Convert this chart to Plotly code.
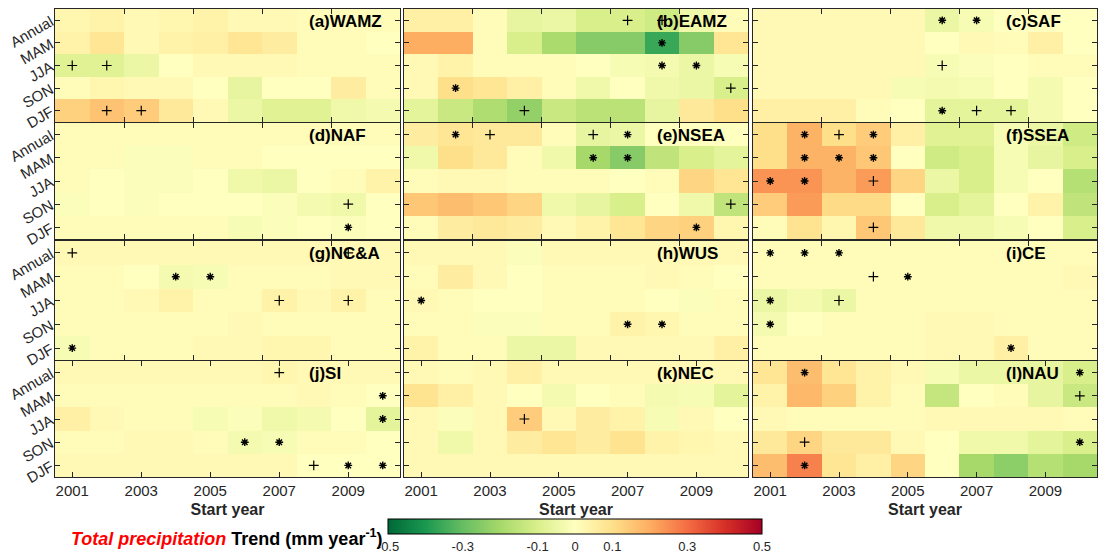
import plotly.graph_objects as go

years = [2001, 2002, 2003, 2004, 2005, 2006, 2007, 2008, 2009, 2010]
seasons = ["Annual", "MAM", "JJA", "SON", "DJF"]
regions = ["(a)WAMZ", "(b)EAMZ", "(c)SAF", "(d)NAF", "(e)NSEA", "(f)SSEA",
           "(g)NC&A", "(h)WUS", "(i)CE", "(j)SI", "(k)NEC", "(l)NAU"]

# trend values, rows = seasons (Annual, MAM, JJA, SON, DJF), cols = 2001..2010
wamz = [[0.03, 0.04, 0.02, 0.03, 0.04, 0.02, 0.02, 0.01, 0.01, 0.01],
        [0.04, 0.08, 0.02, 0.04, 0.05, 0.08, 0.06, 0.01, 0.01, 0.00],
        [-0.08, -0.08, -0.05, 0.00, 0.02, 0.02, 0.02, 0.01, 0.01, 0.01],
        [0.01, 0.03, 0.02, 0.02, 0.00, -0.06, 0.00, 0.00, 0.06, 0.01],
        [0.13, 0.16, 0.14, 0.07, 0.02, -0.05, -0.08, -0.08, -0.04, -0.03]]
eamz = [[0.05, 0.05, 0.01, -0.06, -0.05, -0.10, -0.10, -0.12, -0.04, 0.01],
        [0.20, 0.20, 0.01, -0.10, -0.19, -0.25, -0.25, -0.36, -0.25, 0.08],
        [0.02, 0.04, 0.01, 0.01, 0.01, 0.00, -0.02, -0.03, -0.05, -0.02],
        [0.02, 0.10, 0.08, 0.05, 0.01, -0.04, 0.00, -0.04, -0.05, -0.10],
        [-0.07, -0.13, -0.18, -0.23, -0.13, -0.16, -0.16, -0.06, 0.07, 0.10]]
saf = [[0.02, 0.02, 0.02, 0.02, 0.02, -0.05, -0.02, 0.00, 0.00, 0.00],
       [0.02, 0.02, 0.02, 0.02, 0.02, 0.00, 0.02, 0.01, 0.05, 0.00],
       [0.02, 0.02, 0.02, 0.02, 0.02, -0.02, -0.01, 0.00, 0.01, 0.01],
       [0.02, 0.02, 0.02, 0.02, -0.02, -0.03, -0.02, 0.00, -0.03, 0.00],
       [0.05, 0.05, 0.05, 0.01, 0.00, -0.07, -0.07, -0.07, -0.03, 0.00]]
naf = [[0.01, 0.01, 0.01, 0.01, 0.01, 0.01, 0.01, 0.01, 0.01, 0.01],
       [0.01, 0.01, -0.01, -0.01, 0.01, 0.01, 0.00, 0.00, 0.00, 0.00],
       [0.01, 0.00, -0.01, -0.01, 0.00, -0.04, -0.05, 0.00, 0.01, 0.04],
       [-0.01, 0.00, -0.01, 0.00, 0.00, 0.00, -0.01, -0.03, -0.04, 0.00],
       [0.01, 0.01, 0.01, 0.01, 0.01, -0.02, -0.01, 0.00, -0.01, 0.00]]
nsea = [[0.06, 0.08, 0.07, 0.07, 0.01, -0.06, -0.05, 0.00, 0.00, 0.00],
        [-0.04, 0.10, 0.07, 0.01, -0.04, -0.20, -0.25, -0.15, -0.10, -0.07],
        [0.01, 0.02, 0.02, 0.01, 0.01, 0.01, 0.00, 0.01, 0.12, 0.08],
        [0.15, 0.17, 0.15, 0.12, -0.04, -0.06, -0.10, 0.00, -0.04, -0.15],
        [0.01, 0.06, 0.07, 0.06, 0.02, 0.04, 0.08, 0.12, 0.13, 0.03]]
ssea = [[0.10, 0.19, 0.10, 0.14, 0.05, -0.08, -0.08, -0.02, -0.05, -0.12],
        [0.10, 0.19, 0.19, 0.15, 0.00, -0.12, -0.10, -0.02, -0.06, -0.10],
        [0.24, 0.24, 0.19, 0.23, 0.12, -0.05, -0.10, -0.02, 0.00, -0.17],
        [0.14, 0.23, 0.11, 0.11, 0.00, -0.10, -0.07, 0.00, 0.04, -0.15],
        [0.01, 0.09, 0.03, 0.15, 0.07, -0.04, -0.04, -0.02, 0.00, -0.10]]
nca = [[0.02, 0.02, 0.02, 0.02, 0.02, 0.02, 0.02, 0.02, 0.02, 0.02],
       [0.01, 0.01, 0.00, -0.03, -0.02, 0.01, 0.01, 0.01, 0.02, 0.02],
       [0.01, 0.01, 0.02, 0.04, 0.01, 0.01, 0.04, 0.02, 0.04, 0.01],
       [0.01, 0.01, 0.01, 0.01, 0.01, 0.02, 0.01, 0.01, 0.01, 0.01],
       [-0.02, 0.01, 0.01, 0.01, 0.02, 0.02, 0.03, 0.03, 0.01, 0.01]]
wus = [[0.02, 0.02, 0.02, -0.01, 0.02, 0.02, 0.02, 0.02, 0.02, 0.02],
       [0.01, 0.06, 0.02, 0.00, 0.01, 0.01, 0.01, 0.02, 0.01, 0.00],
       [0.02, 0.01, 0.00, 0.00, 0.01, 0.01, 0.01, 0.00, -0.01, 0.01],
       [0.01, 0.01, -0.01, -0.01, 0.01, 0.01, 0.04, 0.03, 0.01, 0.01],
       [0.04, 0.01, 0.01, -0.05, -0.05, 0.02, 0.02, 0.02, 0.02, 0.05]]
ce = [[0.01, 0.01, 0.01, 0.01, 0.01, 0.01, 0.01, 0.01, 0.01, 0.01],
      [0.01, 0.01, 0.01, 0.01, 0.01, 0.01, 0.01, 0.01, 0.01, 0.02],
      [-0.05, -0.03, -0.05, 0.01, 0.01, 0.01, 0.01, 0.01, 0.01, 0.01],
      [-0.03, 0.00, 0.01, 0.01, 0.01, 0.02, 0.02, 0.01, 0.01, 0.01],
      [0.01, 0.01, 0.01, 0.01, 0.01, 0.02, 0.02, 0.05, 0.01, 0.01]]
si = [[0.02, 0.02, 0.02, 0.02, 0.02, 0.02, 0.03, 0.02, 0.02, 0.02],
      [0.01, 0.01, 0.01, 0.01, 0.01, 0.01, 0.01, 0.02, 0.01, 0.00],
      [0.05, 0.02, 0.01, 0.01, -0.02, -0.01, -0.04, -0.03, 0.00, -0.07],
      [0.01, 0.01, 0.02, 0.02, 0.01, -0.03, -0.02, 0.01, 0.01, 0.00],
      [0.02, 0.02, 0.02, 0.02, 0.02, 0.02, 0.02, 0.00, 0.00, 0.00]]
nec = [[0.02, 0.01, 0.02, 0.05, 0.02, 0.02, 0.02, 0.02, 0.02, 0.02],
       [0.09, 0.05, 0.02, 0.00, -0.03, 0.00, 0.01, -0.03, -0.02, -0.07],
       [0.02, -0.01, 0.02, 0.14, 0.02, 0.06, 0.04, -0.02, 0.02, 0.00],
       [0.02, -0.04, 0.02, 0.06, 0.08, 0.06, 0.09, 0.04, 0.03, 0.02],
       [0.02, 0.02, 0.02, 0.02, 0.02, 0.02, 0.02, 0.02, 0.02, 0.02]]
nau = [[0.08, 0.17, 0.08, 0.04, 0.02, -0.02, -0.05, -0.05, -0.06, -0.10],
       [0.04, 0.18, 0.13, 0.04, 0.01, -0.14, 0.00, 0.01, -0.06, -0.13],
       [0.02, 0.01, 0.01, 0.01, 0.01, 0.02, 0.02, 0.02, 0.02, 0.01],
       [0.07, 0.12, 0.07, 0.07, 0.02, 0.00, -0.04, -0.04, -0.07, -0.10],
       [0.17, 0.27, 0.08, 0.05, 0.12, 0.00, -0.20, -0.24, -0.17, -0.20]]
values = [wamz, eamz, saf, naf, nsea, ssea, nca, wus, ce, si, nec, nau]

# significance marks: '*' and '+' per cell, '.' = none
marks = [
    ["..........", "..........", "++........", "..........", ".++......."],
    ["......++..", ".......*..", ".......**.", ".*.......+", "...+......"],
    [".....**...", "..........", ".....+....", "..........", ".....*++.."],
    ["..........", "..........", "..........", "........+.", "........*."],
    [".*+..+*...", ".....**...", "..........", ".........+", "........*."],
    [".*+*......", ".***......", "**.+......", "..........", "...+......"],
    ["+.......+.", "...**.....", "......+.+.", "..........", "*........."],
    ["..........", "..........", "*.........", "......**..", ".........."],
    ["***.......", "...+*.....", "*.+.......", "*.........", ".......*.."],
    ["......+...", ".........*", ".........*", ".....**...", ".......+**"],
    ["..........", "..........", "...+......", "..........", ".........."],
    [".*.......*", ".........+", "..........", ".+.......*", ".*........"],
]

cbar_ticks = [-0.5, -0.3, -0.1, 0, 0.1, 0.3, 0.5]

# page body adds an 8px margin; work in target-image pixels and shift
OFF = 8
W, H = 1108 - OFF, 556 - OFF
col_l = [55 - OFF, 404 - OFF, 753 - OFF]
col_r = [400 - OFF, 748 - OFF, 1097 - OFF]
row_t = [9 - OFF, 123 - OFF, 241 - OFF, 361 - OFF]
row_b = [122 - OFF, 239 - OFF, 360 - OFF, 477 - OFF]

colorscale = [[0.0, "#006837"], [0.1, "#1a9850"], [0.2, "#66bd63"], [0.3, "#a6d96a"],
              [0.4, "#d9ef8b"], [0.5, "#ffffbf"], [0.6, "#fee08b"], [0.7, "#fdae61"],
              [0.8, "#f46d43"], [0.9, "#d73027"], [1.0, "#a50026"]]

FONT = "Liberation Sans, Arial"
fig = go.Figure()
layout = {}
ink = "#262626"
for i in range(12):
    r, c = divmod(i, 3)
    n = "" if i == 0 else str(i + 1)
    xa, ya = "x" + n, "y" + n
    fig.add_trace(go.Heatmap(z=values[i], x=years, y=list(range(5)), coloraxis="coloraxis",
                             xaxis=xa, yaxis=ya))
    for sym in ["*", "+"]:
        xs, ys = [], []
        for si_, row in enumerate(marks[i]):
            for yi, ch in enumerate(row):
                if ch == sym:
                    xs.append(years[yi]); ys.append(si_)
        if not xs:
            continue
        if sym == "*":
            fig.add_trace(go.Scatter(x=xs, y=ys, mode="markers", xaxis=xa, yaxis=ya,
                                     marker=dict(symbol="asterisk-open", size=6.5, color="black",
                                                 line=dict(width=1.4, color="black")),
                                     showlegend=False, hoverinfo="skip"))
            fig.add_trace(go.Scatter(x=xs, y=ys, mode="markers", xaxis=xa, yaxis=ya,
                                     marker=dict(symbol="circle", size=3.6, color="black"),
                                     showlegend=False, hoverinfo="skip"))
        else:
            fig.add_trace(go.Scatter(x=xs, y=ys, mode="markers", xaxis=xa, yaxis=ya,
                                     marker=dict(symbol="cross-thin-open", size=7, color="black",
                                                 line=dict(width=1.2, color="black")),
                                     showlegend=False, hoverinfo="skip"))
    bottom = (r == 3)
    layout["xaxis" + n] = dict(
        domain=[col_l[c] / W, col_r[c] / W], anchor=ya, range=[2000.5, 2010.5],
        tickvals=[2001, 2003, 2005, 2007, 2009] if bottom else [2002.5, 2004.5, 2006.5, 2008.5],
        ticktext=[str(v) for v in [2001, 2003, 2005, 2007, 2009]] if bottom else [""] * 4,
        showticklabels=bottom, ticks="inside", ticklen=5, tickcolor=ink, mirror="ticks",
        showline=True, linecolor=ink, linewidth=1.3, showgrid=False, zeroline=False,
        automargin=False,
        tickfont=dict(family=FONT, size=15, color=ink),
        title=dict(text="<b>Start year</b>", font=dict(family=FONT, size=16, color=ink),
                   standoff=5) if bottom else None)
    layout["yaxis" + n] = dict(
        domain=[1 - row_b[r] / H, 1 - row_t[r] / H], anchor=xa, range=[4.5, -0.5],
        tickvals=list(range(5)), ticktext=seasons, showticklabels=(c == 0), tickangle=-30,
        ticks="inside", ticklen=5, tickcolor=ink, mirror="ticks", showline=True,
        linecolor=ink, linewidth=1.3, showgrid=False, zeroline=False, automargin=False,
        tickfont=dict(family=FONT, size=15, color=ink))

annotations = []
for i in range(12):
    n = "" if i == 0 else str(i + 1)
    annotations.append(dict(text="<b>" + regions[i].replace("&", "&amp;") + "</b>",
                            xref="x" + n + " domain", yref="y" + n + " domain",
                            x=252 / 345, y=0.99, xanchor="left", yanchor="top", showarrow=False,
                            font=dict(family=FONT, size=17, color="black")))
annotations.append(dict(
    text="<b><i><span style='color:#ff0000'>Total precipitation</span></i> Trend (mm year<sup>-1</sup>)</b>",
    xref="paper", yref="paper", x=(385 - OFF) / W, y=1 - (537 - OFF) / H, xanchor="right",
    yanchor="middle", showarrow=False, font=dict(family=FONT, size=18, color="black")))

fig.update_layout(
    width=W, height=H, margin=dict(l=0, r=0, t=0, b=0, autoexpand=False),
    paper_bgcolor="white", plot_bgcolor="white", showlegend=False,
    coloraxis=dict(cmin=-0.5, cmax=0.5, colorscale=colorscale,
                   colorbar=dict(orientation="h", x=(575 - OFF) / W, xanchor="center",
                                 y=1 - (519 - OFF) / H, yanchor="top", len=374 / W,
                                 lenmode="fraction", thickness=15, thicknessmode="pixels",
                                 outlinecolor="black", outlinewidth=1, tickvals=cbar_ticks,
                                 ticktext=[str(v) for v in cbar_ticks], ticks="",
                                 tickfont=dict(family=FONT, size=13, color=ink),
                                 xpad=0, ypad=0)),
    annotations=annotations, **layout)

fig.write_html("out.html")
